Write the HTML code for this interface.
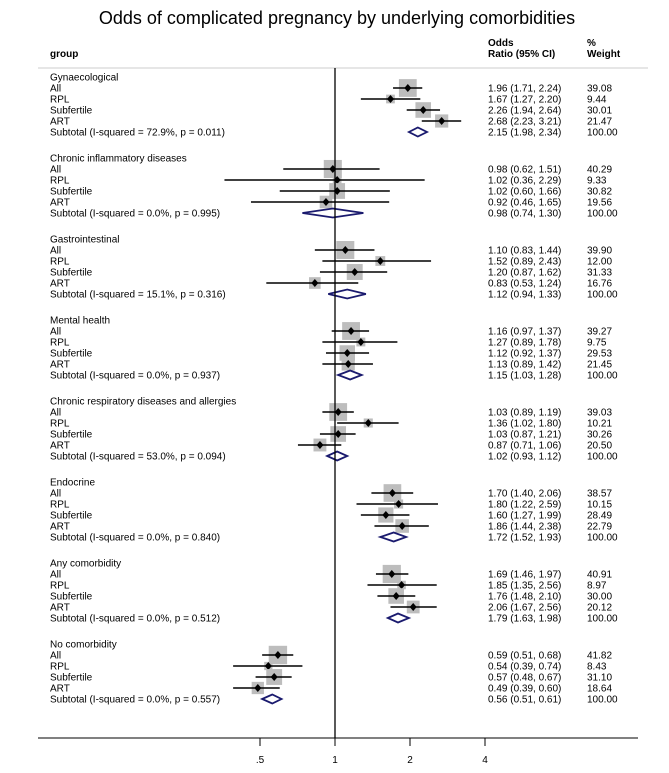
<!DOCTYPE html>
<html><head><meta charset="utf-8"><style>
body{margin:0;background:#fff;width:669px;height:768px;overflow:hidden;font-family:"Liberation Sans",Arial,sans-serif}
svg text{font-family:"Liberation Sans",Arial,sans-serif}
</style></head><body>
<svg id="chart" width="669" height="768" viewBox="0 0 669 768">
<text x="337" y="24" text-anchor="middle" font-size="18">Odds of complicated pregnancy by underlying comorbidities</text>
<text x="50" y="57" font-size="10" font-weight="bold">group</text>
<text x="488" y="46" font-size="10" font-weight="bold">Odds</text>
<text x="488" y="57" font-size="10" font-weight="bold">Ratio (95% CI)</text>
<text x="587" y="46" font-size="10" font-weight="bold">%</text>
<text x="587" y="57" font-size="10" font-weight="bold">Weight</text>
<line x1="38" y1="68" x2="648" y2="68" stroke="#ccc" stroke-width="1"/>
<g id="marks"></g>
<line x1="335" y1="68" x2="335" y2="738" stroke="#000" stroke-width="1.3"/>
<line x1="38" y1="738" x2="638" y2="738" stroke="#000" stroke-width="1"/>
<g id="ticks"></g>
</svg>
<script>
const groups=["Gynaecological","Chronic inflammatory diseases","Gastrointestinal","Mental health","Chronic respiratory diseases and allergies","Endocrine","Any comorbidity","No comorbidity"];
const subLabels=["All","RPL","Subfertile","ART"];
const orVals=[[1.96,1.67,2.26,2.68],[0.98,1.02,1.02,0.92],[1.10,1.52,1.20,0.83],[1.16,1.27,1.12,1.13],[1.03,1.36,1.03,0.87],[1.70,1.80,1.60,1.86],[1.69,1.85,1.76,2.06],[0.59,0.54,0.57,0.49]];
const loVals=[[1.71,1.27,1.94,2.23],[0.62,0.36,0.60,0.46],[0.83,0.89,0.87,0.53],[0.97,0.89,0.92,0.89],[0.89,1.02,0.87,0.71],[1.40,1.22,1.27,1.44],[1.46,1.35,1.48,1.67],[0.51,0.39,0.48,0.39]];
const hiVals=[[2.24,2.20,2.64,3.21],[1.51,2.29,1.66,1.65],[1.44,2.43,1.62,1.24],[1.37,1.78,1.37,1.42],[1.19,1.80,1.21,1.06],[2.06,2.59,1.99,2.38],[1.97,2.56,2.10,2.56],[0.68,0.74,0.67,0.60]];
const weights=[[39.08,9.44,30.01,21.47],[40.29,9.33,30.82,19.56],[39.90,12.00,31.33,16.76],[39.27,9.75,29.53,21.45],[39.03,10.21,30.26,20.50],[38.57,10.15,28.49,22.79],[40.91,8.97,30.00,20.12],[41.82,8.43,31.10,18.64]];
const subOr=[2.15,0.98,1.12,1.15,1.02,1.72,1.79,0.56];
const subLo=[1.98,0.74,0.94,1.03,0.93,1.52,1.63,0.51];
const subHi=[2.34,1.30,1.33,1.28,1.12,1.93,1.98,0.61];
const i2=["72.9%","0.0%","15.1%","0.0%","53.0%","0.0%","0.0%","0.0%"];
const pvals=["0.011","0.995","0.316","0.937","0.094","0.840","0.512","0.557"];
const tickVals=[0.5,1,2,4];
const tickLabels=[".5","1","2","4"];

const NS="http://www.w3.org/2000/svg";
const x=v=>335+75*Math.log2(v);
const f2=v=>v.toFixed(2);
const marks=document.getElementById('marks');
function mk(tag,attrs,parent,txt){const e=document.createElementNS(NS,tag);for(const k in attrs)e.setAttribute(k,attrs[k]);if(txt!==undefined)e.textContent=txt;(parent||marks).appendChild(e);return e;}
groups.forEach((g,gi)=>{
  const y0=77+gi*81;
  const t=mk('text',{x:50,y:y0+3.5,'font-size':10},null,g);
  
  
  subLabels.forEach((s,si)=>{
    const y=y0+11*(si+1);
    const lt=mk('text',{x:50,y:y+3.5,'font-size':10},null,s);
    
    
    const side=18*Math.sqrt(weights[gi][si]/40);
    const b=mk('rect',{x:x(orVals[gi][si])-side/2,y:y-side/2,width:side,height:side,fill:'#bdbdbd'});
    
    
    const l=mk('line',{x1:x(loVals[gi][si]),x2:x(hiVals[gi][si]),y1:y,y2:y,stroke:'#000','stroke-width':1.5});
    
    
    const c=mk('path',{d:`M${x(orVals[gi][si])} ${y-4}l3.5 4l-3.5 4l-3.5 -4z`,fill:'#000'});
    
    
    const vt=mk('text',{x:488,y:y+3.5,'font-size':10},null,`${f2(orVals[gi][si])} (${f2(loVals[gi][si])}, ${f2(hiVals[gi][si])})`);
    
    
    const wt=mk('text',{x:587,y:y+3.5,'font-size':10},null,f2(weights[gi][si]));
    
    
  });
  const ys=y0+55;
  const st=mk('text',{x:50,y:ys+3.5,'font-size':10},null,`Subtotal  (I-squared = ${i2[gi]}, p = ${pvals[gi]})`);
  
  
  const d=mk('path',{d:`M${x(subLo[gi])} ${ys}L${x(subOr[gi])} ${ys-4.5}L${x(subHi[gi])} ${ys}L${x(subOr[gi])} ${ys+4.5}Z`,fill:'#fff',stroke:'#1a1a6e','stroke-width':1.8});
  
  
  const sv=mk('text',{x:488,y:ys+3.5,'font-size':10},null,`${f2(subOr[gi])} (${f2(subLo[gi])}, ${f2(subHi[gi])})`);
  
  
  const sw=mk('text',{x:587,y:ys+3.5,'font-size':10},null,"100.00");
  
  
});
const ticks=document.getElementById('ticks');
tickVals.forEach((v,i)=>{
  const tl=mk('line',{x1:x(v),x2:x(v),y1:738,y2:746,stroke:'#000'},ticks);
  
  
  const tt=mk('text',{x:x(v),y:763,'font-size':10,'text-anchor':'middle'},ticks,tickLabels[i]);
  
  
});
</script>
</body></html>
